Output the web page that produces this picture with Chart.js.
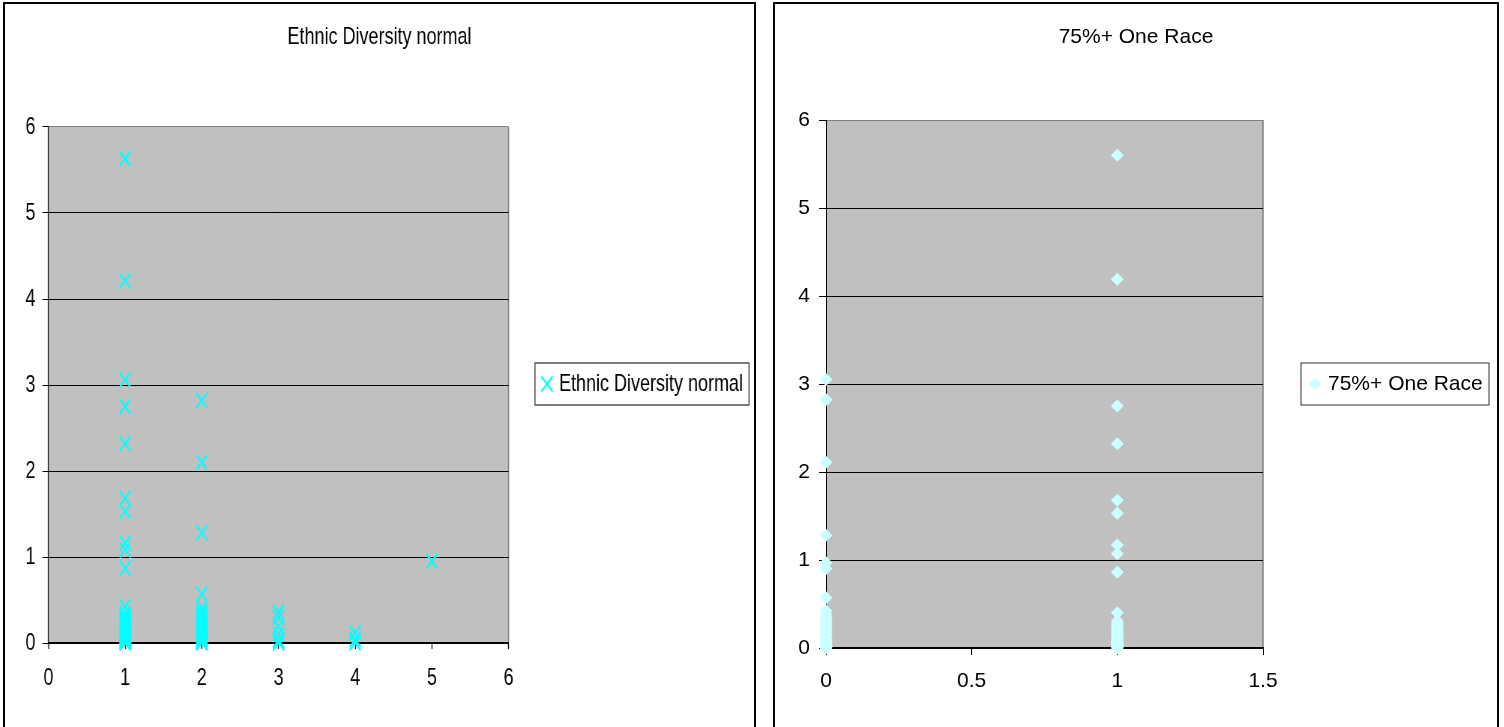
<!DOCTYPE html>
<html>
<head>
<meta charset="utf-8">
<script src="https://cdn.jsdelivr.net/npm/chart.js@4.4.1/dist/chart.umd.min.js"></script>
<style>
  html, body { margin: 0; padding: 0; background: #fff; width: 1504px; height: 727px; overflow: hidden; }
  .frame { position: absolute; top: 2px; height: 800px; border: 2px solid #000; box-sizing: content-box; }
  #frameDiversity { left: 3px; width: 749px; }
  #frameOneRace { left: 773px; width: 722px; }
  canvas { position: absolute; left: 0; top: 0; }
</style>
</head>
<body>
<div class="frame" id="frameDiversity">
  <!-- drawn wide, shown condensed -->
  <canvas id="diversityChart" width="999" height="723" style="width:749px;height:723px"></canvas>
</div>
<div class="frame" id="frameOneRace">
  <canvas id="oneRaceChart" width="722" height="723" style="width:722px;height:723px"></canvas>
</div>
<script>
// ---- Ethnic diversity level (x) vs. value (y) ----
const diversityLevels = [1, 2, 3, 4, 5];
const diversityLevel1 = [5.63, 4.21, 3.06, 2.75, 2.32, 1.68, 1.53, 1.16, 1.08, 0.87, 0.42, 0.34, 0.31, 0.29, 0.27,
                         0.25, 0.23, 0.21, 0.19, 0.17, 0.15, 0.13, 0.11, 0.1, 0.08, 0.07, 0.05, 0.04, 0.03, 0.02, 0.01, 0];
const diversityLevel2 = [2.82, 2.1, 1.28, 0.57, 0.41, 0.36, 0.32, 0.28, 0.24, 0.21, 0.18, 0.15, 0.12, 0.09, 0.07,
                         0.05, 0.03, 0.01, 0];
const diversityLevel3 = [0.36, 0.3, 0.19, 0.1, 0.03, 0];
const diversityLevel4 = [0.12, 0.04, 0];
const diversityLevel5 = [0.95];
const diversityByLevel = [diversityLevel1, diversityLevel2, diversityLevel3, diversityLevel4, diversityLevel5];
const diversityTicksX = [0, 1, 2, 3, 4, 5, 6];
const diversityTicksY = [0, 1, 2, 3, 4, 5, 6];

// ---- 75%+ one race flag (x: 0 = no, 1 = yes) vs. value (y) ----
const oneRaceFlags = [0, 1];
const oneRaceNo = [3.05, 2.82, 2.11, 1.28, 0.97, 0.9, 0.57, 0.42, 0.38, 0.35, 0.32, 0.29, 0.27, 0.24, 0.21,
                   0.19, 0.16, 0.14, 0.11, 0.09, 0.07, 0.05, 0.03, 0.02, 0.01, 0];
const oneRaceYes = [5.6, 4.19, 2.75, 2.32, 1.68, 1.53, 1.17, 1.07, 0.86, 0.4, 0.31, 0.28, 0.26, 0.24, 0.22,
                    0.2, 0.18, 0.16, 0.14, 0.12, 0.1, 0.09, 0.07, 0.06, 0.05, 0.04, 0.03, 0.02, 0.01, 0];
const oneRaceByFlag = [oneRaceNo, oneRaceYes];
const oneRaceTicksX = [0, 0.5, 1, 1.5];
const oneRaceTicksY = [0, 1, 2, 3, 4, 5, 6];

const FAMILY = "'Liberation Sans', Arial, Helvetica, sans-serif";
Chart.defaults.color = '#000';

function toPoints(xs, groups) {
  return xs.flatMap((x, i) => groups[i].map(v => ({ x: x, y: v })));
}
function fixedTicks(values) {
  return scale => { scale.ticks = values.map(v => ({ value: v })); };
}
const plainLabel = v => String(v);

// empty strip on the right of the plot that holds the legend box
function legendStrip(width) {
  return {
    type: 'linear', position: 'right', min: 0, max: 1,
    ticks: { display: false },
    grid: { display: false, drawTicks: false },
    border: { display: false },
    afterFit(s) { s.width = width; }
  };
}

// grey plot area with a grey right edge
const plotBackground = {
  id: 'plotBackground',
  beforeDraw(chart, args, o) {
    const { ctx, chartArea: a } = chart;
    ctx.save();
    ctx.fillStyle = o.color;
    ctx.fillRect(a.left, a.top, a.right - a.left, a.bottom - a.top);
    ctx.strokeStyle = o.edgeColor;
    ctx.lineWidth = o.edgeWidth;
    ctx.beginPath();
    ctx.moveTo(a.right, a.top);
    ctx.lineTo(a.right, a.bottom);
    ctx.stroke();
    ctx.restore();
  }
};

// legend in a bordered box beside the plot
const boxedLegend = {
  id: 'boxedLegend',
  afterDraw(chart, args, o) {
    const ctx = chart.ctx;
    const ds = chart.data.datasets[0];
    const cy = o.top + o.height / 2;
    ctx.save();
    ctx.fillStyle = '#fff';
    ctx.fillRect(o.left, o.top, o.width, o.height);
    ctx.strokeStyle = o.borderColor;
    ctx.lineWidth = o.borderWidth;
    ctx.strokeRect(o.left, o.top, o.width, o.height);
    ctx.fillStyle = ds.pointBackgroundColor;
    ctx.strokeStyle = ds.pointBorderColor;
    ctx.lineWidth = ds.pointBorderWidth;
    Chart.helpers.drawPoint(ctx, {
      pointStyle: ds.pointStyle, rotation: 0, radius: ds.pointRadius, borderWidth: ds.pointBorderWidth
    }, o.markerX, cy);
    ctx.fillStyle = '#000';
    ctx.font = o.fontSize + 'px ' + FAMILY;
    ctx.textAlign = 'left';
    ctx.textBaseline = 'middle';
    ctx.fillText(ds.label, o.textX, cy);
    ctx.restore();
  }
};

// ---------- Ethnic Diversity normal ----------
const leftFont = { family: FAMILY, size: 24 };
new Chart(document.getElementById('diversityChart'), {
  type: 'scatter',
  data: {
    datasets: [{
      label: 'Ethnic Diversity normal',
      data: toPoints(diversityLevels, diversityByLevel),
      pointStyle: 'crossRot',
      pointRadius: 10.5,
      pointBorderWidth: 2.2,
      pointBorderColor: '#00FFFF',
      pointBackgroundColor: '#00FFFF',
      borderColor: '#00FFFF',
      backgroundColor: '#00FFFF',
      clip: false
    }]
  },
  options: {
    responsive: false,
    animation: false,
    devicePixelRatio: 1,
    events: [],
    layout: { padding: 0 },
    scales: {
      x: {
        type: 'linear', position: 'bottom', min: 0, max: 6,
        afterBuildTicks: fixedTicks(diversityTicksX),
        ticks: { padding: 14.6, font: leftFont, color: '#000', maxRotation: 0, autoSkip: false, callback: plainLabel },
        grid: { drawOnChartArea: false, drawTicks: true, tickLength: 6, tickColor: '#000', tickWidth: 1.33 },
        border: { display: true, color: '#000', width: 1.5 },
        afterFit(s) { s.height = 84; }
      },
      y: {
        type: 'linear', position: 'left', min: 0, max: 6,
        afterBuildTicks: fixedTicks(diversityTicksY),
        ticks: { padding: 9.3, font: leftFont, color: '#000', autoSkip: false, callback: plainLabel },
        grid: {
          color: c => (c.tick && c.tick.value === 6) ? '#808080' : '#000',
          lineWidth: 1, tickLength: 8, tickColor: '#000', tickWidth: 1
        },
        border: { display: true, color: '#000', width: 1.33 },
        afterFit(s) { s.width = 58; }
      },
      legendSpace: legendStrip(327.4)
    },
    plugins: {
      legend: { display: false },
      tooltip: { enabled: false },
      title: {
        display: true, text: 'Ethnic Diversity normal', color: '#000',
        font: { family: FAMILY, size: 24, weight: 'normal' },
        padding: { top: 18.6, bottom: 75.6 }
      },
      plotBackground: { color: '#C0C0C0', edgeColor: '#808080', edgeWidth: 1.5 },
      boxedLegend: {
        left: 706.9, top: 359, width: 285.4, height: 42,
        markerX: 722.9, textX: 738.9, fontSize: 24, borderColor: '#333', borderWidth: 1.3
      }
    }
  },
  plugins: [plotBackground, boxedLegend]
});

// ---------- 75%+ One Race ----------
const rightFont = { family: FAMILY, size: 21 };
new Chart(document.getElementById('oneRaceChart'), {
  type: 'scatter',
  data: {
    datasets: [{
      label: '75%+ One Race',
      data: toPoints(oneRaceFlags, oneRaceByFlag),
      pointStyle: 'rectRot',
      pointRadius: 6.5,
      pointBorderWidth: 0,
      pointBorderColor: '#CCFFFF',
      pointBackgroundColor: '#CCFFFF',
      borderColor: '#CCFFFF',
      backgroundColor: '#CCFFFF',
      clip: false
    }]
  },
  options: {
    responsive: false,
    animation: false,
    devicePixelRatio: 1,
    events: [],
    layout: { padding: 0 },
    scales: {
      x: {
        type: 'linear', position: 'bottom', min: 0, max: 1.5,
        afterBuildTicks: fixedTicks(oneRaceTicksX),
        ticks: { padding: 13.4, font: rightFont, color: '#000', maxRotation: 0, autoSkip: false, callback: plainLabel },
        grid: { drawOnChartArea: false, drawTicks: true, tickLength: 7, tickColor: '#000', tickWidth: 1 },
        border: { display: true, color: '#000', width: 1.5 },
        afterFit(s) { s.height = 79; }
      },
      y: {
        type: 'linear', position: 'left', min: 0, max: 6,
        afterBuildTicks: fixedTicks(oneRaceTicksY),
        ticks: { padding: 9, font: rightFont, color: '#000', autoSkip: false, callback: plainLabel },
        grid: {
          color: c => (c.tick && c.tick.value === 6) ? '#808080' : '#000',
          lineWidth: 1, tickLength: 7, tickColor: '#000', tickWidth: 1
        },
        border: { display: true, color: '#000', width: 1 },
        afterFit(s) { s.width = 51; }
      },
      legendSpace: legendStrip(234)
    },
    plugins: {
      legend: { display: false },
      tooltip: { enabled: false },
      title: {
        display: true, text: '75%+ One Race', color: '#000',
        font: { family: FAMILY, size: 21, weight: 'normal' },
        padding: { top: 20.4, bottom: 70.4 }
      },
      plotBackground: { color: '#C0C0C0', edgeColor: '#808080', edgeWidth: 1.5 },
      boxedLegend: {
        left: 526, top: 359, width: 188, height: 42,
        markerX: 540, textX: 553, fontSize: 21, borderColor: '#333', borderWidth: 1
      }
    }
  },
  plugins: [plotBackground, boxedLegend]
});
</script>
</body>
</html>
